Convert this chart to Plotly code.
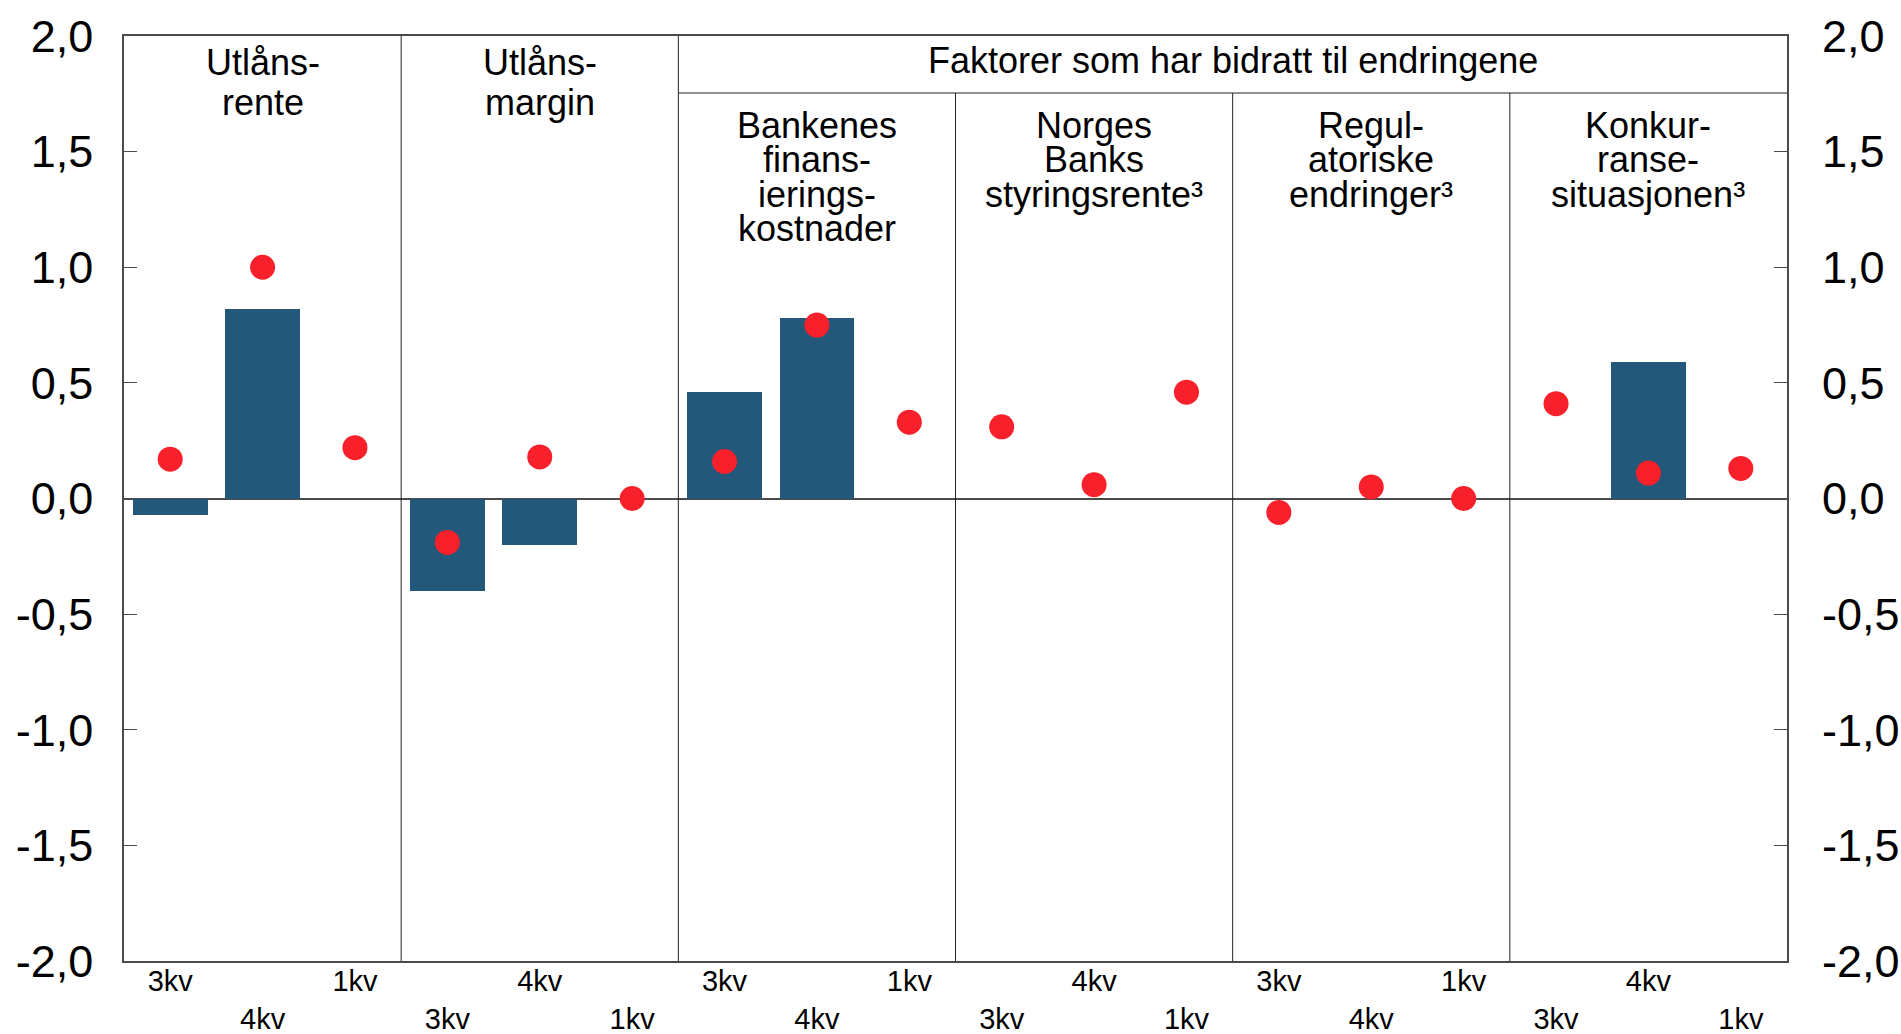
import plotly.graph_objects as go

# chart values
groups = ["Utlånsrente", "Utlånsmargin", "Bankenes finansieringskostnader",
          "Norges Banks styringsrente", "Regulatoriske endringer", "Konkurransesituasjonen"]
quarters = ["3kv", "4kv", "1kv"]
bar_values = [-0.07, 0.82, None,
              -0.40, -0.20, None,
              0.46, 0.78, None,
              None, None, None,
              None, None, None,
              None, 0.59, None]
dot_values = [0.17, 1.00, 0.22,
              -0.19, 0.18, 0.00,
              0.16, 0.75, 0.33,
              0.31, 0.06, 0.46,
              -0.06, 0.05, 0.00,
              0.41, 0.11, 0.13]
y_ticks = [-2.0, -1.5, -1.0, -0.5, 0.0, 0.5, 1.0, 1.5, 2.0]
y_ticktext = ["-2,0", "-1,5", "-1,0", "-0,5", "0,0", "0,5", "1,0", "1,5", "2,0"]
group_titles = [["Utlåns-", "rente"],
                ["Utlåns-", "margin"],
                ["Bankenes", "finans-", "ierings-", "kostnader"],
                ["Norges", "Banks", "styringsrente³"],
                ["Regul-", "atoriske", "endringer³"],
                ["Konkur-", "ranse-", "situasjonen³"]]
factor_title = "Faktorer som har bidratt til endringene"

FONT = "Liberation Sans, Arial, sans-serif"
BAR_COLOR = "#23587a"
DOT_COLOR = "#f7202b"
LINE_COLOR = "#4a4a4a"
SEP_COLOR = "#222222"

W, H = 1901, 1034
M_L, M_R, M_T, M_B = 124, 114, 36, 73
plot_h = H - M_T - M_B


def px_to_y(px):
    # pixel row from the top of the figure -> data value on the -2..2 axis
    return 2.0 - (px - M_T) / plot_h * 4.0


n = len(groups) * len(quarters)
xs = list(range(n))
ticktext = []
for i in range(n):
    q = quarters[i % 3]
    ticktext.append(q if i % 2 == 0 else " <br>" + q)

fig = go.Figure()
fig.add_trace(go.Bar(x=xs, y=bar_values, width=0.81, marker_color=BAR_COLOR,
                     marker_line_width=0, showlegend=False))
fig.add_trace(go.Scatter(x=xs, y=dot_values, mode="markers",
                         marker=dict(size=25, color=DOT_COLOR), showlegend=False))
# invisible trace to carry the right-hand axis
fig.add_trace(go.Scatter(x=[0], y=[0], yaxis="y2", mode="markers",
                         marker=dict(opacity=0), hoverinfo="skip", showlegend=False))

split_y = px_to_y(93)
shapes = []
for b in [2.5, 5.5]:
    shapes.append(dict(type="line", xref="x", yref="y", x0=b, x1=b, y0=-2, y1=2,
                       line=dict(color=SEP_COLOR, width=1)))
for b in [8.5, 11.5, 14.5]:
    shapes.append(dict(type="line", xref="x", yref="y", x0=b, x1=b, y0=-2, y1=split_y,
                       line=dict(color=SEP_COLOR, width=1)))
shapes.append(dict(type="line", xref="x", yref="y", x0=5.5, x1=17.5, y0=split_y, y1=split_y,
                   line=dict(color=SEP_COLOR, width=1)))

annotations = []
for g, lines in enumerate(group_titles):
    if g < 2:
        start, step = 62, 40
    else:
        start, step = 125.5, 34.4
    for k, txt in enumerate(lines):
        annotations.append(dict(x=g * 3 + 1, y=px_to_y(start + k * step), xref="x", yref="y",
                                text=txt, showarrow=False, yanchor="middle",
                                font=dict(size=36, color="black", family=FONT)))
annotations.append(dict(x=11.5, y=px_to_y(60), xref="x", yref="y", text=factor_title,
                        showarrow=False, yanchor="middle",
                        font=dict(size=36, color="black", family=FONT)))

fig.update_layout(
    template="none",
    width=W, height=H,
    margin=dict(l=M_L, r=M_R, t=M_T, b=M_B, autoexpand=False),
    paper_bgcolor="white", plot_bgcolor="white",
    font=dict(family=FONT, color="black"),
    bargap=0,
    xaxis=dict(range=[-0.5, n - 0.5], tickmode="array", tickvals=xs, ticktext=ticktext,
               tickfont=dict(size=29), ticks="", showgrid=False, zeroline=False,
               showline=True, linecolor=LINE_COLOR, linewidth=2, mirror=True,
               ticklabelstandoff=-7, automargin=False),
    yaxis=dict(range=[-2, 2], tickmode="array", tickvals=y_ticks, ticktext=y_ticktext,
               tickfont=dict(size=45), ticks="inside", ticklen=13, tickcolor=LINE_COLOR,
               ticklabelstandoff=20, showgrid=False, zeroline=True, zerolinecolor=LINE_COLOR,
               zerolinewidth=1.5, showline=True, linecolor=LINE_COLOR, linewidth=1.5,
               mirror=True, automargin=False),
    yaxis2=dict(range=[-2, 2], overlaying="y", side="right", tickmode="array",
                tickvals=y_ticks, ticktext=y_ticktext, tickfont=dict(size=45),
                ticks="inside", ticklen=13, tickcolor=LINE_COLOR, ticklabelstandoff=34,
                showgrid=False, zeroline=False, showline=False, automargin=False),
    shapes=shapes,
    annotations=annotations,
)

# drop the browser's default body margin so the figure sits at the page corner
fig.write_html("out.html", config={"displayModeBar": False},
               post_script="document.body.style.margin='0';document.body.style.overflow='hidden';")
